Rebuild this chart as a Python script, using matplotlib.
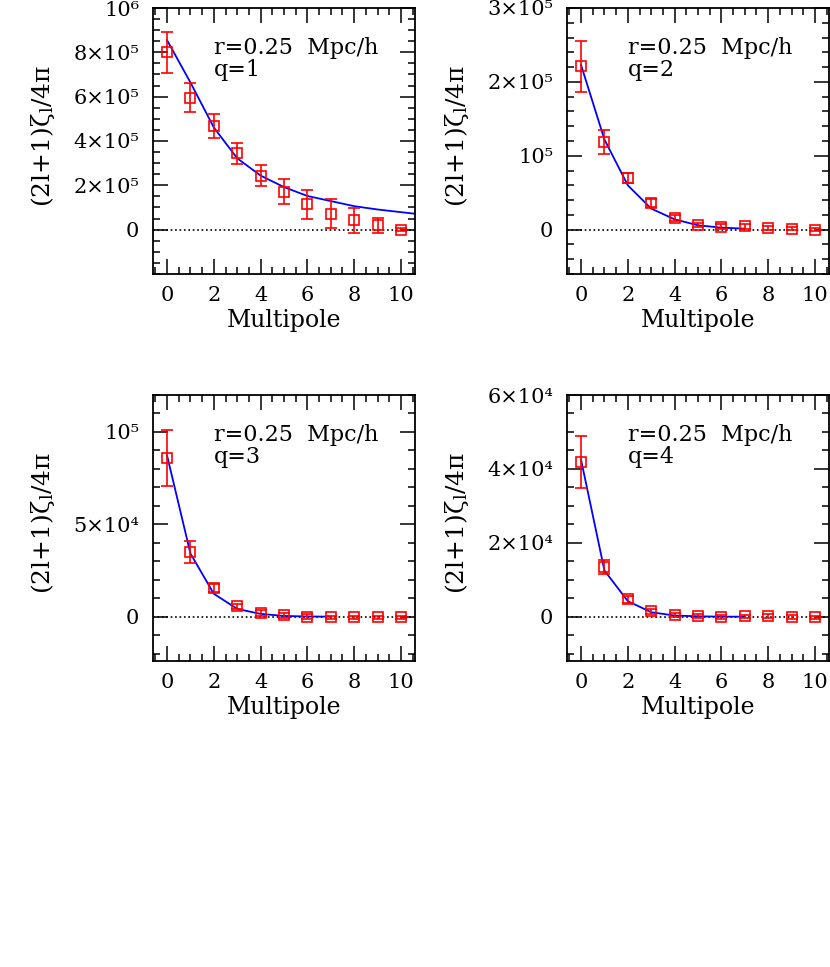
import matplotlib
matplotlib.use('Agg')
import matplotlib.pyplot as plt
from matplotlib.ticker import MultipleLocator, FixedLocator, FixedFormatter

###########################################
## DATA
###########################################

ell = [0, 1, 2, 3, 4, 5, 6, 7, 8, 9, 10]

## q=1
q1_vals = [8.0e5, 5.96e5, 4.69e5, 3.44e5, 2.44e5, 1.72e5, 1.14e5, 0.72e5, 0.42e5, 0.19e5, 0.0]
q1_err = [0.93e5, 0.64e5, 0.55e5, 0.47e5, 0.47e5, 0.57e5, 0.67e5, 0.66e5, 0.55e5, 0.32e5, 0.08e5]
q1_model_ell = [0, 1, 2, 3, 4, 5, 6, 7, 8, 9, 10, 11]
q1_model = [8.55e5, 6.64e5, 4.61e5, 3.22e5, 2.44e5, 1.92e5, 1.52e5, 1.29e5, 1.06e5, 0.91e5, 0.79e5, 0.67e5]

## q=2
q2_vals = [2.21e5, 1.19e5, 0.70e5, 0.362e5, 0.154e5, 0.063e5, 0.041e5, 0.045e5, 0.027e5, 0.014e5, 0.0]
q2_err = [0.35e5, 0.16e5, 0.066e5, 0.052e5, 0.04e5, 0.03e5, 0.03e5, 0.03e5, 0.025e5, 0.02e5, 0.02e5]
q2_model_ell = [0, 1, 2, 3, 4, 5, 6, 7]
q2_model = [2.23e5, 1.22e5, 0.60e5, 0.285e5, 0.14e5, 0.059e5, 0.027e5, 0.014e5]

## q=3
q3_vals = [86.0e3, 34.9e3, 15.3e3, 5.6e3, 2.0e3, 0.7e3, 0.0, -0.3e3, -0.3e3, -0.4e3, -0.3e3]
q3_err = [15.3e3, 5.8e3, 2.2e3, 1.5e3, 1.5e3, 1.4e3, 1.2e3, 0.8e3, 0.8e3, 0.8e3, 0.8e3]
q3_model_ell = [0, 1, 2, 3, 4, 5, 6, 7]
q3_model = [87.3e3, 34.2e3, 12.4e3, 4.2e3, 1.5e3, 0.4e3, 0.1e3, 0.0]

## q=4
q4_vals = [41.8e3, 13.5e3, 4.7e3, 1.45e3, 0.45e3, 0.27e3, -0.1e3, 0.05e3, 0.1e3, -0.15e3, -0.2e3]
q4_err = [7.0e3, 1.9e3, 0.9e3, 0.6e3, 0.6e3, 0.55e3, 0.5e3, 0.5e3, 0.5e3, 0.5e3, 0.5e3]
q4_model_ell = [0, 1, 2, 3, 4, 5, 6, 7]
q4_model = [42.5e3, 12.5e3, 4.2e3, 1.2e3, 0.3e3, 0.1e3, 0.0, 0.0]

## y tick values + labels for each panel
q1_yticks = [0, 2e5, 4e5, 6e5, 8e5, 1e6]
q1_ylabels = ['0', '2×10⁵', '4×10⁵', '6×10⁵', '8×10⁵', '10⁶']
q2_yticks = [0, 1e5, 2e5, 3e5]
q2_ylabels = ['0', '10⁵', '2×10⁵', '3×10⁵']
q3_yticks = [0, 5e4, 1e5]
q3_ylabels = ['0', '5×10⁴', '10⁵']
q4_yticks = [0, 2e4, 4e4, 6e4]
q4_ylabels = ['0', '2×10⁴', '4×10⁴', '6×10⁴']

xticks = [0, 2, 4, 6, 8, 10]

###########################################
## PLOTTING
###########################################

plt.rcParams['font.family'] = ['DejaVu Serif']
plt.rcParams['mathtext.fontset'] = 'dejavuserif'

W, H = 830.0, 967.0

def panel(fig, left_px, top_px, q, vals, err, m_ell, model, yticks, ylabels, ylim, yminor):
    ax = fig.add_axes([left_px / W, 1 - (top_px + 266) / H, 262 / W, 266 / H])

    ax.axhline(0, color='k', ls=':', lw=1.2, zorder=1)
    ax.plot(m_ell, model, color='#0000ff', lw=1.3, zorder=2)
    ax.errorbar(ell, vals, yerr=err, fmt='s', ms=6.5, mfc='none', mec='#ff0000',
                ecolor='#ff0000', elinewidth=1.2, capsize=4.5, capthick=1.2, mew=1.2, zorder=3)

    ax.set_xlim(-0.6, 10.6)
    ax.set_ylim(*ylim)

    ax.xaxis.set_major_locator(FixedLocator(xticks))
    ax.xaxis.set_minor_locator(MultipleLocator(0.5))
    ax.yaxis.set_major_locator(FixedLocator(yticks))
    ax.yaxis.set_major_formatter(FixedFormatter(ylabels))
    ax.yaxis.set_minor_locator(MultipleLocator(yminor))

    ax.tick_params(which='both', direction='in', top=True, right=True, width=1.1, labelsize=15)
    ax.tick_params(which='major', length=10.5)
    ax.tick_params(which='minor', length=5)
    ax.tick_params(axis='x', pad=9)
    ax.tick_params(axis='y', pad=10)
    for s in ax.spines.values():
        s.set_linewidth(1.3)

    ax.set_xlabel('Multipole', fontsize=17)
    ax.xaxis.set_label_coords(0.5, -0.13)
    ax.set_ylabel('(2l+1)ζ$_{\\rm l}$/4π', fontsize=18)
    ax.yaxis.set_label_coords(-0.365, 0.52)

    ax.text(0.233, 0.827, 'r=0.25  Mpc/h', transform=ax.transAxes, fontsize=16, va='baseline')
    ax.text(0.233, 0.744, 'q=' + str(q), transform=ax.transAxes, fontsize=16, va='baseline')
    return ax

fig = plt.figure(figsize=(8.3, 9.67), dpi=100)

panel(fig, 153, 8, 1, q1_vals, q1_err, q1_model_ell, q1_model, q1_yticks, q1_ylabels, (-2e5, 1e6), 5e4)
panel(fig, 567, 8, 2, q2_vals, q2_err, q2_model_ell, q2_model, q2_yticks, q2_ylabels, (-6e4, 3e5), 2e4)
panel(fig, 153, 395, 3, q3_vals, q3_err, q3_model_ell, q3_model, q3_yticks, q3_ylabels, (-2.4e4, 1.2e5), 1e4)
panel(fig, 567, 395, 4, q4_vals, q4_err, q4_model_ell, q4_model, q4_yticks, q4_ylabels, (-1.2e4, 6e4), 5e3)

fig.savefig('out.png', dpi=100)
